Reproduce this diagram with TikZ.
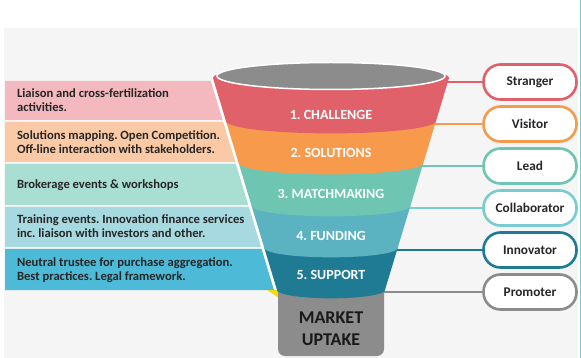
\documentclass[tikz,border=0pt]{standalone}
\usepackage{fontspec}
\setmainfont{Carlito}
\usetikzlibrary{positioning}
\definecolor{chalred}{HTML}{E1616A}
\definecolor{solorange}{HTML}{F79A4C}
\definecolor{matchteal}{HTML}{6DC5B2}
\definecolor{fundteal}{HTML}{5BB3C2}
\definecolor{suppteal}{HTML}{1F7B94}
\definecolor{collabteal}{HTML}{78CCCF}
\definecolor{mkgray}{HTML}{8C8C8C}
\definecolor{pinkbox}{HTML}{F4B9BE}
\definecolor{peachbox}{HTML}{FACAA6}
\definecolor{mintbox}{HTML}{A9DED3}
\definecolor{palebox}{HTML}{A7D9E0}
\definecolor{bluebox}{HTML}{4DBAD8}
\definecolor{bggray}{HTML}{F5F5F5}
\definecolor{marker}{HTML}{F5D90F}
\frenchspacing
\begin{document}
\begin{tikzpicture}[x=1pt,y=-1pt,
		declare function={hw(\u)=118-0.302*(\u-78); sag(\u)=4+0.08*hw(\u);},
		boxtext/.style={anchor=west,align=left,text=black!85,font=\bfseries\fontsize{12.6}{14}\selectfont},
		bandtext/.style={text=white,font=\bfseries\fontsize{14}{16}\selectfont},
		stage/.style={draw,line width=2.6pt,fill=white,rounded corners=17pt,minimum width=93pt,minimum height=35pt,text=black!85,font=\bfseries\fontsize{13.3}{15}\selectfont},
		link/.style={line width=2.6pt}]
		\useasboundingbox[fill=white] (0,0) rectangle (581,358);
		\fill[bggray] (4,28) rectangle (578,358);
		\draw[collabteal, line width=0.8pt] (580.4,0) -- (580.4,358);

		% activity boxes on the left
		\fill[pinkbox] (5,81) -- ({328-hw(81)},81) -- ({328-hw(120)},120) -- (5,120) -- cycle;
		\fill[peachbox] (5,122) -- ({328-hw(122)},122) -- ({328-hw(162)},162) -- (5,162) -- cycle;
		\fill[mintbox] (5,164) -- ({328-hw(164)},164) -- ({328-hw(205)},205) -- (5,205) -- cycle;
		\fill[palebox] (5,207) -- ({328-hw(207)},207) -- ({328-hw(247)},247) -- (5,247) -- cycle;
		\fill[bluebox] (5,249) -- ({328-hw(249)},249) -- ({328-hw(290)},290) -- (5,290) -- cycle;
		\draw[white, line width=2.5pt] ({329.5-hw(80)},80) -- ({329.5-hw(291)},291);
		\fill[marker] (267,290) -- (279,290) -- (279,298) -- cycle;

		\node[boxtext] (liaison) at (13.5,100.5) {Liaison and cross-fertilization\\activities.};
		\node[boxtext] (mapping) at (13.5,142.5) {Solutions mapping. Open Competition.\\Off-line interaction with stakeholders.};
		\node[boxtext] (brokerage) at (13.5,185) {Brokerage events \& workshops};
		\node[boxtext] (training) at (13.5,226.5) {Training events. Innovation finance services\\inc. liaison with investors and other.};
		\node[boxtext] (trustee) at (13.5,270) {Neutral trustee for purchase aggregation.\\Best practices. Legal framework.};

		% stages on the right
		\node[stage, draw=chalred] (stranger) at (530,82) {Stranger};
		\node[stage, draw=solorange] (visitor) at (530,124) {Visitor};
		\node[stage, draw=matchteal] (lead) at (530,166) {Lead};
		\node[stage, draw=collabteal] (collaborator) at (530,208) {Collaborator};
		\node[stage, draw=suppteal] (innovator) at (530,250) {Innovator};
		\node[stage, draw=mkgray] (promoter) at (530,292) {Promoter};

		\coordinate (r1) at ({328+hw(82)},82);
		\coordinate (r2) at ({328+hw(124)},124);
		\coordinate (r3) at ({328+hw(166)},166);
		\coordinate (r4) at ({328+hw(208)},208);
		\coordinate (r5) at ({328+hw(250)},250);
		\coordinate (r6) at (380,292);
		\draw[link, chalred] (r1) -- (stranger.west);
		\draw[link, solorange] (r2) -- (visitor.west);
		\draw[link, matchteal] (r3) -- (lead.west);
		\draw[link, collabteal] (r4) -- (collaborator.west);
		\draw[link, suppteal] (r5) -- (innovator.west);
		\draw[link, mkgray] (r6) -- (promoter.west);

		% funnel
		\fill[mkgray, rounded corners=7pt] (278,270) rectangle (384,356);
		\fill[suppteal] plot[domain=180:0,samples=40] ({331+hw(290)*cos(\x)},{290+sag(290)*sin(\x)}) -- plot[domain=0:180,samples=40] ({331+hw(248)*cos(\x)},{248-sag(248)*sin(\x)}) -- cycle;
		\fill[fundteal] plot[domain=180:0,samples=40] ({331+hw(248)*cos(\x)},{248+sag(248)*sin(\x)}) -- plot[domain=0:180,samples=40] ({331+hw(206)*cos(\x)},{206-sag(206)*sin(\x)}) -- cycle;
		\fill[matchteal] plot[domain=180:0,samples=40] ({331+hw(206)*cos(\x)},{206+sag(206)*sin(\x)}) -- plot[domain=0:180,samples=40] ({331+hw(163)*cos(\x)},{163-sag(163)*sin(\x)}) -- cycle;
		\fill[solorange] plot[domain=180:0,samples=40] ({331+hw(163)*cos(\x)},{163+sag(163)*sin(\x)}) -- plot[domain=0:180,samples=40] ({331+hw(121)*cos(\x)},{121-sag(121)*sin(\x)}) -- cycle;
		\fill[chalred] plot[domain=180:0,samples=40] ({331+hw(121)*cos(\x)},{121+sag(121)*sin(\x)}) -- plot[domain=0:180,samples=40] ({331+hw(78)*cos(\x)},{78-sag(78)*sin(\x)}) -- cycle;
		\filldraw[fill=mkgray, draw=white, line width=1.5pt] (331,76) ellipse [x radius=114, y radius=13.5];

		\node[bandtext] (challenge) at (331,115) {1. CHALLENGE};
		\node[bandtext] (solutions) at (331,153) {2. SOLUTIONS};
		\node[bandtext] (matchmaking) at (331,194) {3. MATCHMAKING};
		\node[bandtext] (funding) at (331,236) {4. FUNDING};
		\node[bandtext] (support) at (331,275) {5. SUPPORT};
		\node[align=center, text=black!90, font=\bfseries\fontsize{18}{22}\selectfont] (market) at (331,329) {MARKET\\UPTAKE};
	\end{tikzpicture}
\end{document}
